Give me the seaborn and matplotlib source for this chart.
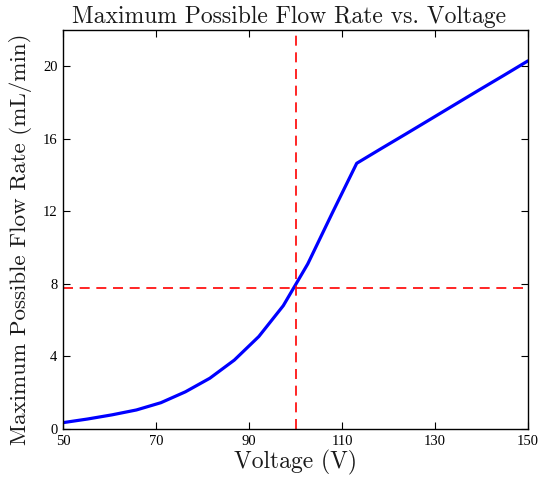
import numpy as np
import pandas as pd
import matplotlib
matplotlib.use("Agg")
import matplotlib.pyplot as plt
import seaborn as sns

voltage = [50.00, 55.26, 60.53, 65.79, 71.05, 76.32, 81.58, 86.84, 92.11, 97.37,
           102.63, 107.89, 113.16, 118.42, 123.68, 128.95, 134.21, 139.47, 144.74, 150.00]
flow_rate = [0.35, 0.55, 0.78, 1.05, 1.45, 2.05, 2.80, 3.80, 5.10, 6.80,
             9.10, 11.90, 14.65, 15.46, 16.26, 17.07, 17.88, 18.69, 19.49, 20.30]
ref_voltage = 100
ref_flow = 7.8
x_ticks = [50, 70, 90, 110, 130, 150]
y_ticks = [0, 4, 8, 12, 16, 20]

sns.set_style("white")
plt.rcParams['font.family'] = ['Liberation Serif', 'DejaVu Serif']

df = pd.DataFrame({"Voltage": voltage, "Flow": flow_rate})

fig = plt.figure(figsize=(5.4, 4.87), dpi=100)
ax = fig.add_axes([0.1167, 0.1191, 0.8611, 0.8193])

sns.lineplot(data=df, x="Voltage", y="Flow", ax=ax, color="#0000ff", linewidth=2.3)
ax.axvline(ref_voltage, color="#ff0000", linestyle=(0, (6, 4)), linewidth=1.2)
ax.axhline(ref_flow, color="#ff0000", linestyle=(0, (6, 4)), linewidth=1.2)

ax.set_xlim(50, 150)
ax.set_ylim(0, 22)
ax.set_xticks(x_ticks)
ax.set_yticks(y_ticks)
ax.set_xticklabels([str(t) for t in x_ticks], fontsize=10.5)
ax.set_yticklabels([str(t) for t in y_ticks], fontsize=10.5)
ax.tick_params(direction="in", length=5, width=0.8, top=True, right=True,
               bottom=True, left=True, colors="black", pad=4)

for s in ax.spines.values():
    s.set_visible(True)
    s.set_color("black")
    s.set_linewidth(1.0)

lab_font = dict(family=['cmr10', 'DejaVu Serif'], fontsize=17, color="#1a1a1a")
ax.set_xlabel("Voltage (V)", **lab_font, labelpad=2)
ax.set_ylabel("Maximum Possible Flow Rate (mL/min)", family=['cmr10', 'DejaVu Serif'],
              fontsize=16.6, color="#1a1a1a")
ax.yaxis.set_label_coords(-0.067, 0.475)
ax.set_title("Maximum Possible Flow Rate vs. Voltage", **lab_font, x=0.487, pad=5)

fig.savefig("out.png", dpi=100)
